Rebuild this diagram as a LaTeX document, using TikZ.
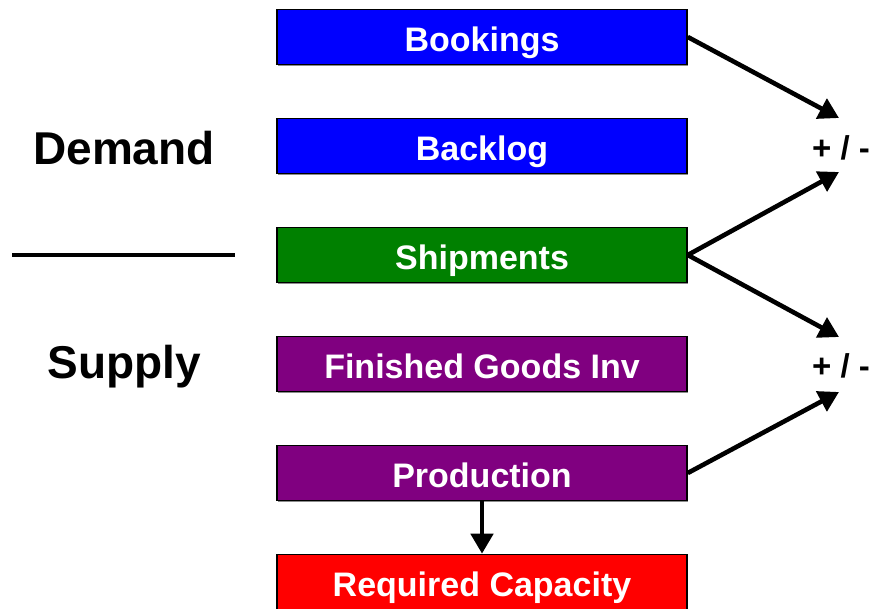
\documentclass[tikz,border=0pt]{standalone}
\usepackage{fontspec}
\setmainfont{Liberation Sans}
\usetikzlibrary{arrows.meta,shadows}
\definecolor{boxblue}{RGB}{0,0,255}
\definecolor{boxgreen}{RGB}{0,128,0}
\definecolor{boxpurple}{RGB}{128,0,128}
\definecolor{boxred}{RGB}{255,0,0}
\begin{document}
\begin{tikzpicture}[x=1pt,y=-1pt,
  bar/.style={draw=black,line width=1.6pt,minimum width=410pt,minimum height=55pt,
    inner sep=0pt,text height=29pt,text depth=0pt,text=white,
    font=\bfseries\fontsize{34}{36}\selectfont,
    drop shadow={shadow xshift=1pt,shadow yshift=-1.5pt,fill=black!45,opacity=1}},
  side/.style={font=\bfseries\fontsize{46}{50}\selectfont},
  pm/.style={font=\bfseries\fontsize{33}{36}\selectfont,inner sep=0pt},
  link/.style={line width=4.6pt,-{Triangle[length=20pt,width=22pt]}}]
  \useasboundingbox (0,0) rectangle (872,609);

  % stacked quantity bars
  \node[bar,fill=boxblue]   (book) at (482,37)  {Bookings};
  \node[bar,fill=boxblue]   (back) at (482,146) {Backlog};
  \node[bar,fill=boxgreen]  (ship) at (482,255) {Shipments};
  \node[bar,fill=boxpurple] (fgi)  at (482,364) {Finished Goods Inv};
  \node[bar,fill=boxpurple] (prod) at (482,473) {Production};
  \node[bar,fill=boxred]    (cap)  at (482,582) {Required Capacity};

  % side labels and divider
  \node[side] (dem) at (124,148) {Demand};
  \node[side] (sup) at (124,367) {Supply};
  \coordinate (divl) at (12,255);
  \coordinate (divr) at (235,255);
  \draw[line width=4.4pt] (divl) -- (divr);

  % balance markers
  \node[pm] (pmA) at (841,148) {+ / -};
  \node[pm] (pmB) at (841,366) {+ / -};
  \coordinate (pmAin) at (839,118);
  \coordinate (pmAout) at (839,172);
  \coordinate (pmBin) at (839,337);
  \coordinate (pmBout) at (839,392);

  % flows into the balances
  \draw[link] (book.east) -- (pmAin);
  \draw[link] (ship.east) -- (pmAout);
  \draw[link] (ship.east) -- (pmBin);
  \draw[link] (prod.east) -- (pmBout);
  \draw[link] (prod.south) -- (cap.north);
\end{tikzpicture}
\end{document}
